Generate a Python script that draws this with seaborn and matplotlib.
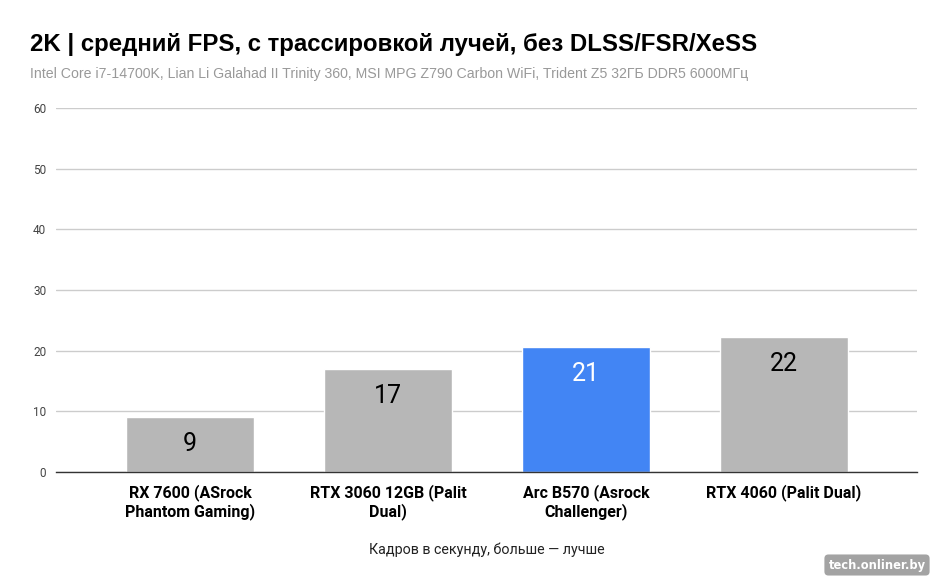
import pandas as pd
import seaborn as sns
from matplotlib import pyplot as plt

sns.set_theme(style="white")
plt.rcParams["font.family"] = ["Roboto", "DejaVu Sans"]

gpus = [
    "RX 7600 (ASrock\nPhantom Gaming)",
    "RTX 3060 12GB (Palit\nDual)",
    "Arc B570 (Asrock\nChallenger)",
    "RTX 4060 (Palit Dual)",
]
fps = [9.1, 17.0, 20.6, 22.3]
bar_colors = ["#b7b7b7", "#b7b7b7", "#4285f4", "#b7b7b7"]
label_colors = ["black", "black", "white", "black"]
yticks = [0, 10, 20, 30, 40, 50, 60]

title = "2K | средний FPS, с трассировкой лучей, без DLSS/FSR/XeSS"
subtitle = ("Intel Core i7-14700K, Lian Li Galahad II Trinity 360, MSI MPG Z790 "
            "Carbon WiFi, Trident Z5 32ГБ DDR5 6000МГц")
xlabel = "Кадров в секунду, больше — лучше"

df = pd.DataFrame({"gpu": gpus, "fps": fps})

fig = plt.figure(figsize=(9.47, 5.85), dpi=100)
ax = fig.add_axes([0.0591, 0.1932, 0.9092, 0.6222])

sns.barplot(data=df, x="gpu", y="fps", hue="gpu", palette=bar_colors,
            width=0.65, saturation=1, legend=False, ax=ax)

ax.set_xlim(-0.677, 3.672)
ax.set_ylim(0, 60)
ax.set_yticks(yticks)
ax.grid(axis="y", color="#cccccc", linewidth=1)
ax.set_axisbelow(True)
for side in ["top", "right", "left"]:
    ax.spines[side].set_visible(False)
ax.spines["bottom"].set_color("#333333")
ax.spines["bottom"].set_linewidth(1)

ax.tick_params(axis="y", length=0, pad=7, labelsize=8.5, labelcolor="#444444")
ax.tick_params(axis="x", length=0, pad=9)
for lbl in ax.get_xticklabels():
    lbl.set_fontsize(11.5)
    lbl.set_fontweight("bold")
    lbl.set_color("black")
    lbl.set_linespacing(1.15)

ax.set_ylabel("")
ax.set_xlabel(xlabel, fontsize=10.3, color="#222222", labelpad=16)

for bar, val, c in zip(ax.patches, fps, label_colors):
    ax.annotate(f"{val:.0f}",
                (bar.get_x() + bar.get_width() / 2, bar.get_height()),
                xytext=(0, -27), textcoords="offset pixels",
                ha="center", va="center", fontsize=18, color=c)

fig.text(30 / 947, 1 - 44 / 585, title, fontsize=17.3, fontweight="bold",
         color="black", va="center", ha="left",
         family=["Liberation Sans", "DejaVu Sans"])
fig.text(30 / 947, 1 - 74 / 585, subtitle, fontsize=10.15, color="#999999",
         va="center", ha="left", family=["Liberation Sans", "DejaVu Sans"])

fig.text(877 / 947, 1 - 565 / 585, "tech.onliner.by", fontsize=8.3,
         fontweight="bold", color="white", ha="center", va="center",
         family=["DejaVu Sans"],
         bbox=dict(boxstyle="round,pad=0.35", facecolor="#999999",
                   edgecolor="none", alpha=0.9))

fig.savefig("out.png", dpi=100)
